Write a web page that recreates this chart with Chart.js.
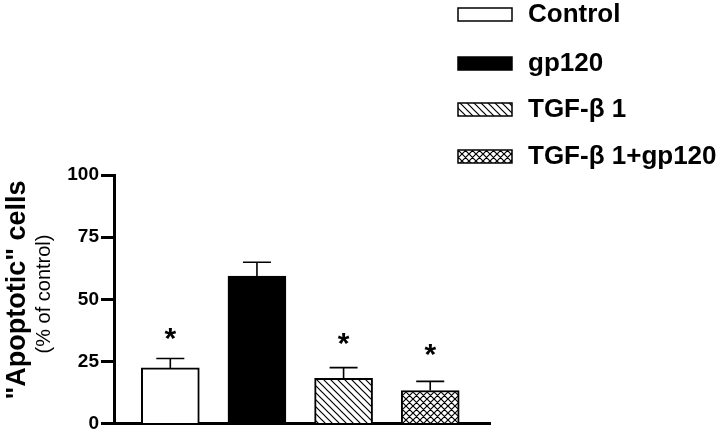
<!DOCTYPE html>
<html lang="en">
<head>
  <meta charset="UTF-8" />
  <title>Apoptotic cells</title>
  <script src="https://cdn.jsdelivr.net/npm/chart.js"></script>
  <style>
    body { margin: 0; background: #fff; }
    #chart { display: block; }
  </style>
</head>
<body>
  <canvas id="chart" width="720" height="437"></canvas>

  <script>
    // data
    const categories = ['Control', 'gp120', 'TGF-β 1', 'TGF-β 1+gp120'];
    const values = [22.4, 59.3, 18.2, 13.3];
    const errors = [3.8, 5.6, 4.3, 3.7];
    const starLevels = [36, null, 34.1, 29.6]; // where the "*" sits, in % units
    const yTicks = [0, 25, 50, 75, 100];

    // fill patterns
    function hatch(kind) {
      const size = 7;
      const c = document.createElement('canvas');
      c.width = size; c.height = size;
      const g = c.getContext('2d');
      g.fillStyle = '#fff';
      g.fillRect(0, 0, size, size);
      g.strokeStyle = '#000';
      g.lineWidth = 1.2;
      g.beginPath();
      // "\" lines
      g.moveTo(-1, -1); g.lineTo(size + 1, size + 1);
      g.moveTo(-1, size - 1); g.lineTo(1, size + 1);
      g.moveTo(size - 1, -1); g.lineTo(size + 1, 1);
      if (kind === 'cross') {
        // "/" lines
        g.moveTo(-1, size + 1); g.lineTo(size + 1, -1);
        g.moveTo(-1, 1); g.lineTo(1, -1);
        g.moveTo(size - 1, size + 1); g.lineTo(size + 1, size - 1);
      }
      g.stroke();
      return g.createPattern(c, 'repeat');
    }
    const fills = ['#ffffff', '#000000', hatch('diag'), hatch('cross')];

    const errorBars = {
      id: 'errorBars',
      afterDatasetsDraw(chart) {
        const ctx = chart.ctx;
        const y = chart.scales.y;
        const meta = chart.getDatasetMeta(0);
        ctx.save();
        ctx.strokeStyle = '#000';
        ctx.lineWidth = 1.6;
        meta.data.forEach((bar, i) => {
          const top = y.getPixelForValue(values[i] + errors[i]);
          ctx.beginPath();
          ctx.moveTo(bar.x, bar.y);
          ctx.lineTo(bar.x, top);
          ctx.moveTo(bar.x - 14, top);
          ctx.lineTo(bar.x + 14, top);
          ctx.stroke();
        });
        // significance marks
        ctx.fillStyle = '#000';
        ctx.font = 'bold 30px "Liberation Sans", Arial, sans-serif';
        ctx.textAlign = 'center';
        ctx.textBaseline = 'alphabetic';
        const m = ctx.measureText('*');
        const shift = (m.actualBoundingBoxAscent - m.actualBoundingBoxDescent) / 2;
        meta.data.forEach((bar, i) => {
          if (starLevels[i] == null) return;
          ctx.fillText('*', bar.x, y.getPixelForValue(starLevels[i]) + shift);
        });
        ctx.restore();
      }
    };

    const sideTitle = {
      id: 'sideTitle',
      afterDraw(chart) {
        const ctx = chart.ctx;
        ctx.save();
        ctx.fillStyle = '#000';
        ctx.textAlign = 'center';
        ctx.textBaseline = 'middle';
        ctx.translate(18, 290);
        ctx.rotate(-Math.PI / 2);
        ctx.font = 'bold 27px "Liberation Sans", Arial, sans-serif';
        ctx.fillText('"Apoptotic" cells', 0, 0);
        ctx.restore();
        ctx.save();
        ctx.fillStyle = '#000';
        ctx.textAlign = 'center';
        ctx.textBaseline = 'middle';
        ctx.translate(44, 294);
        ctx.rotate(-Math.PI / 2);
        ctx.font = '20px "Liberation Sans", Arial, sans-serif';
        ctx.fillText('(% of control)', 0, 0);
        ctx.restore();
      }
    };

    const boxLegend = {
      id: 'boxLegend',
      afterDraw(chart) {
        const ctx = chart.ctx;
        const rows = [14, 63, 109, 156];
        ctx.save();
        ctx.font = 'bold 26px "Liberation Sans", Arial, sans-serif';
        ctx.textBaseline = 'middle';
        ctx.textAlign = 'left';
        categories.forEach((name, i) => {
          const cy = rows[i];
          ctx.fillStyle = fills[i];
          ctx.fillRect(458, cy - 6, 54, 13);
          ctx.strokeStyle = '#000';
          ctx.lineWidth = 1.5;
          ctx.strokeRect(458, cy - 6, 54, 13);
          ctx.fillStyle = '#000';
          ctx.fillText(name, 528, cy + 1);
        });
        ctx.restore();
      }
    };

    new Chart(document.getElementById('chart'), {
      type: 'bar',
      data: {
        datasets: [{
          data: categories.map((c, i) => ({ x: i + 1, y: values[i] })),
          backgroundColor: fills,
          borderColor: '#000',
          borderWidth: 2,
          borderSkipped: 'bottom',
          barThickness: 58
        }]
      },
      options: {
        responsive: false,
        animation: false,
        layout: { padding: { top: 175, right: 230, bottom: 0, left: 0 } },
        plugins: { legend: { display: false }, tooltip: { enabled: false } },
        scales: {
          x: {
            type: 'linear',
            min: 0.35,
            max: 4.69,
            offset: false,
            grid: { display: false },
            ticks: { display: false },
            border: { display: true, color: '#000', width: 3 },
            afterFit(scale) { scale.height = 12; }
          },
          y: {
            min: 0,
            max: 100,
            afterBuildTicks(scale) { scale.ticks = yTicks.map(v => ({ value: v })); },
            grid: {
              drawOnChartArea: false,
              drawTicks: true,
              tickLength: 13,
              tickWidth: 3,
              tickColor: '#000'
            },
            border: { display: true, color: '#000', width: 3 },
            ticks: {
              color: '#000',
              padding: 2,
              font: { family: '"Liberation Sans", Arial, sans-serif', size: 19, weight: 'bold' }
            },
            afterFit(scale) { scale.width = 114; }
          }
        }
      },
      plugins: [errorBars, sideTitle, boxLegend]
    });
  </script>
</body>
</html>
